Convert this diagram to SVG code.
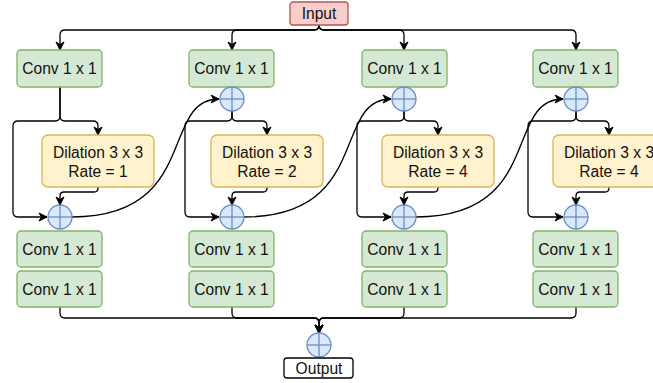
<svg xmlns="http://www.w3.org/2000/svg" width="653" height="383" viewBox="0 0 653 383">
  <style>
    .conv { fill: #d5e8d4; stroke: #82b366; stroke-width: 1.3; }
    .dil { fill: #fff2cc; stroke: #d6b656; stroke-width: 1.3; }
    .inp { fill: #f8cecc; stroke: #b85450; stroke-width: 1.3; }
    .outp { fill: #ffffff; stroke: #000000; stroke-width: 1.3; }
    text { font-family: "Liberation Sans", Arial, sans-serif; font-size: 15.6px; fill: #111111; text-anchor: middle; }
    .edge { fill: none; stroke: #000000; stroke-width: 1.3; }
    .arr { marker-end: url(#arrow); }
  </style>
  <defs>
    <marker id="arrow" markerWidth="10" markerHeight="10" refX="9" refY="5" orient="auto" markerUnits="userSpaceOnUse">
      <path d="M1,1 L9,5 L1,9 L3.5,5 z" fill="#000000" stroke="#000000" stroke-width="1"/>
    </marker>
    <!-- summation node: circle with a cross -->
    <g id="plus" fill="#dae8fc" stroke="#6c8ebf" stroke-width="1.3">
      <circle cx="0" cy="0" r="12"/>
      <line x1="-12" y1="0" x2="12" y2="0"/>
      <line x1="0" y1="-12" x2="0" y2="12"/>
    </g>
  </defs>

  <!-- connectors -->
  <g id="connectors">
    <!-- input fan-out -->
    <path class="edge arr" d="M319,25 Q319,30 314,30 L65,30 Q60,30 60,35 L60,50"/>
    <path class="edge arr" d="M319,25 Q319,30 314,30 L237,30 Q232,30 232,35 L232,50"/>
    <path class="edge arr" d="M319,25 Q319,30 324,30 L399,30 Q404,30 404,35 L404,50"/>
    <path class="edge arr" d="M319,25 Q319,30 324,30 L571,30 Q576,30 576,35 L576,50"/>

    <!-- column 1 -->
    <path class="edge arr" d="M60,87 L60,116 Q60,121 55,121 L18,121 Q13,121 13,126 L13,212 Q13,217 18,217 L47,217"/>
    <path class="edge arr" d="M60,87 L60,116 Q60,121 65,121 L93,121 Q98,121 98,126 L98,135"/>
    <path class="edge arr" d="M98,187 L98,188 Q98,192 94,192 L64,192 Q60,192 60,196 L60,205"/>

    <!-- column 2 -->
    <path class="edge arr" d="M232,111 L232,116 Q232,121 227,121 L190,121 Q185,121 185,126 L185,212 Q185,217 190,217 L219,217"/>
    <path class="edge arr" d="M232,111 L232,116 Q232,121 237,121 L262,121 Q267,121 267,126 L267,135"/>
    <path class="edge arr" d="M267,187 L267,188 Q267,192 263,192 L236,192 Q232,192 232,196 L232,205"/>

    <!-- column 3 -->
    <path class="edge arr" d="M404,111 L404,116 Q404,121 399,121 L362,121 Q357,121 357,126 L357,212 Q357,217 362,217 L391,217"/>
    <path class="edge arr" d="M404,111 L404,116 Q404,121 409,121 L433,121 Q438,121 438,126 L438,135"/>
    <path class="edge arr" d="M438,187 L438,188 Q438,192 434,192 L408,192 Q404,192 404,196 L404,205"/>

    <!-- column 4 -->
    <path class="edge arr" d="M576,111 L576,116 Q576,121 571,121 L533,121 Q528,121 528,126 L528,212 Q528,217 533,217 L563,217"/>
    <path class="edge arr" d="M576,111 L576,116 Q576,121 581,121 L604,121 Q609,121 609,126 L609,135"/>
    <path class="edge arr" d="M609,187 L609,188 Q609,192 605,192 L580,192 Q576,192 576,196 L576,205"/>

    <!-- skip curves between columns -->
    <path class="edge arr" d="M72,217 C200,217 160,99 219,99"/>
    <path class="edge arr" d="M244,217 C372,217 332,99 391,99"/>
    <path class="edge arr" d="M416,217 C544,217 504,99 563,99"/>

    <!-- fan-in to output sum -->
    <path class="edge arr" d="M60,307 L60,313 Q60,318 65,318 L314,318 Q319,318 319,323 L319,333"/>
    <path class="edge arr" d="M232,307 L232,313 Q232,318 237,318 L314,318 Q319,318 319,323 L319,333"/>
    <path class="edge arr" d="M404,307 L404,313 Q404,318 399,318 L324,318 Q319,318 319,323 L319,333"/>
    <path class="edge arr" d="M576,307 L576,313 Q576,318 571,318 L324,318 Q319,318 319,323 L319,333"/>
  </g>

  <!-- input / output -->
  <g id="input">
    <rect class="inp" x="290" y="2" width="58" height="23" rx="3"/>
    <text x="319" y="19">Input</text>
  </g>
  <g id="output-sum"><use href="#plus" x="319" y="345"/></g>
  <g id="output">
    <rect class="outp" x="284" y="358" width="69" height="20" rx="3"/>
    <text x="319" y="374">Output</text>
  </g>

  <!-- column 1 -->
  <g id="conv-a1"><rect class="conv" x="17" y="50" width="85" height="37" rx="4"/><text x="59.5" y="74">Conv 1 x 1</text></g>
  <g id="dil-1"><rect class="dil" x="42" y="135" width="112" height="52" rx="6"/><text x="98" y="157.5">Dilation 3 x 3</text><text x="98" y="176.5">Rate = 1</text></g>
  <g id="sum-b1"><use href="#plus" x="60" y="217"/></g>
  <g id="conv-b1"><rect class="conv" x="17" y="231" width="85" height="36" rx="4"/><text x="59.5" y="254.5">Conv 1 x 1</text></g>
  <g id="conv-c1"><rect class="conv" x="17" y="271" width="85" height="36" rx="4"/><text x="59.5" y="294.5">Conv 1 x 1</text></g>

  <!-- column 2 -->
  <g id="conv-a2"><rect class="conv" x="189" y="50" width="85" height="37" rx="4"/><text x="231.5" y="74">Conv 1 x 1</text></g>
  <g id="sum-a2"><use href="#plus" x="232" y="99"/></g>
  <g id="dil-2"><rect class="dil" x="211" y="135" width="112" height="52" rx="6"/><text x="267" y="157.5">Dilation 3 x 3</text><text x="267" y="176.5">Rate = 2</text></g>
  <g id="sum-b2"><use href="#plus" x="232" y="217"/></g>
  <g id="conv-b2"><rect class="conv" x="189" y="231" width="85" height="36" rx="4"/><text x="231.5" y="254.5">Conv 1 x 1</text></g>
  <g id="conv-c2"><rect class="conv" x="189" y="271" width="85" height="36" rx="4"/><text x="231.5" y="294.5">Conv 1 x 1</text></g>

  <!-- column 3 -->
  <g id="conv-a3"><rect class="conv" x="362" y="50" width="85" height="37" rx="4"/><text x="404.5" y="74">Conv 1 x 1</text></g>
  <g id="sum-a3"><use href="#plus" x="404" y="99"/></g>
  <g id="dil-3"><rect class="dil" x="382" y="135" width="112" height="52" rx="6"/><text x="438" y="157.5">Dilation 3 x 3</text><text x="438" y="176.5">Rate = 4</text></g>
  <g id="sum-b3"><use href="#plus" x="404" y="217"/></g>
  <g id="conv-b3"><rect class="conv" x="362" y="231" width="85" height="36" rx="4"/><text x="404.5" y="254.5">Conv 1 x 1</text></g>
  <g id="conv-c3"><rect class="conv" x="362" y="271" width="85" height="36" rx="4"/><text x="404.5" y="294.5">Conv 1 x 1</text></g>

  <!-- column 4 -->
  <g id="conv-a4"><rect class="conv" x="533" y="50" width="85" height="37" rx="4"/><text x="575.5" y="74">Conv 1 x 1</text></g>
  <g id="sum-a4"><use href="#plus" x="576" y="99"/></g>
  <g id="dil-4"><rect class="dil" x="553" y="135" width="112" height="52" rx="6"/><text x="609" y="157.5">Dilation 3 x 3</text><text x="609" y="176.5">Rate = 4</text></g>
  <g id="sum-b4"><use href="#plus" x="576" y="217"/></g>
  <g id="conv-b4"><rect class="conv" x="533" y="231" width="85" height="36" rx="4"/><text x="575.5" y="254.5">Conv 1 x 1</text></g>
  <g id="conv-c4"><rect class="conv" x="533" y="271" width="85" height="36" rx="4"/><text x="575.5" y="294.5">Conv 1 x 1</text></g>
</svg>
